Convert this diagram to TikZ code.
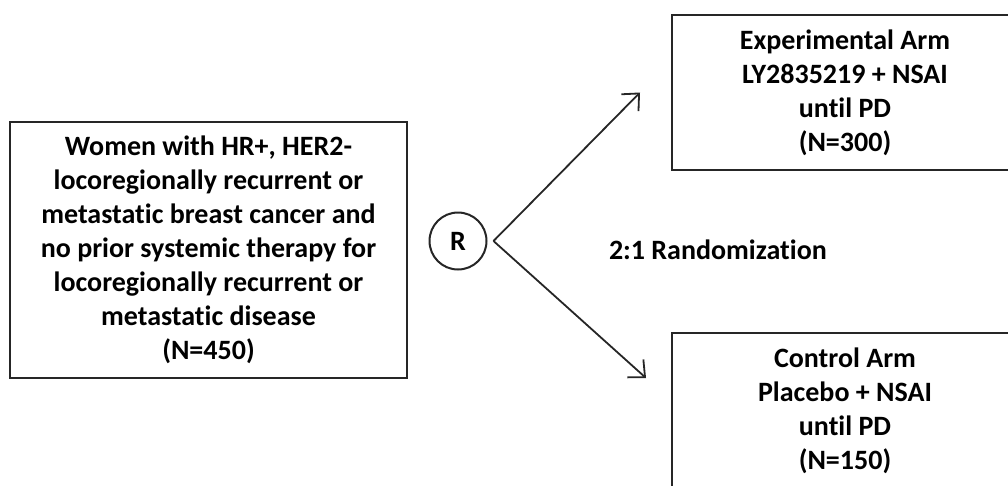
\documentclass[tikz,border=0pt]{standalone}
\usepackage{fontspec}
\setmainfont{Carlito}[Ligatures={NoCommon}]
\usetikzlibrary{arrows.meta}

\begin{document}
\begin{tikzpicture}[x=1pt,y=-1pt,
		box/.style={draw=black!85,line width=2pt,align=center,inner sep=0pt,
			font=\bfseries\fontsize{28}{34}\selectfont},
		arm/.style={draw=black!85,line width=1.8pt,
			-{Straight Barb[length=13pt,width=24pt,line width=1.8pt]}}]
	\useasboundingbox (0,0) rectangle (1008,485);
	\clip (0,0) rectangle (1008,485);

	% patients
	\node[box,minimum width=397pt,minimum height=256pt] (pop) at (208.5,250)
		{Women with HR+, HER2-\\locoregionally recurrent or\\metastatic breast cancer and\\
		 no prior systemic therapy for\\locoregionally recurrent or\\metastatic disease\\(N=450)};

	% randomisation
	\node[box,circle,minimum size=57pt] (rand) at (458,241) {R};
	\coordinate (split) at ([xshift=6pt]rand.east);
	\node[box,draw=none,anchor=west] (ratio) at (608,250) {2:1 Randomization};

	% arms
	\node[box,minimum width=346pt,minimum height=155pt] (exp) at (845,92.5)
		{Experimental Arm\\LY2835219 + NSAI\\until PD\\(N=300)};
	\node[box,minimum width=346pt,minimum height=156pt] (ctl) at (845,411)
		{Control Arm\\Placebo + NSAI\\until PD\\(N=150)};

	\coordinate (expin) at ([xshift=-31pt]exp.west);
	\coordinate (ctlin) at ([xshift=-25pt,yshift=33pt]ctl.west);
	\draw[arm] (split) -- (expin);
	\draw[arm] (split) -- (ctlin);

\end{tikzpicture}
\end{document}
